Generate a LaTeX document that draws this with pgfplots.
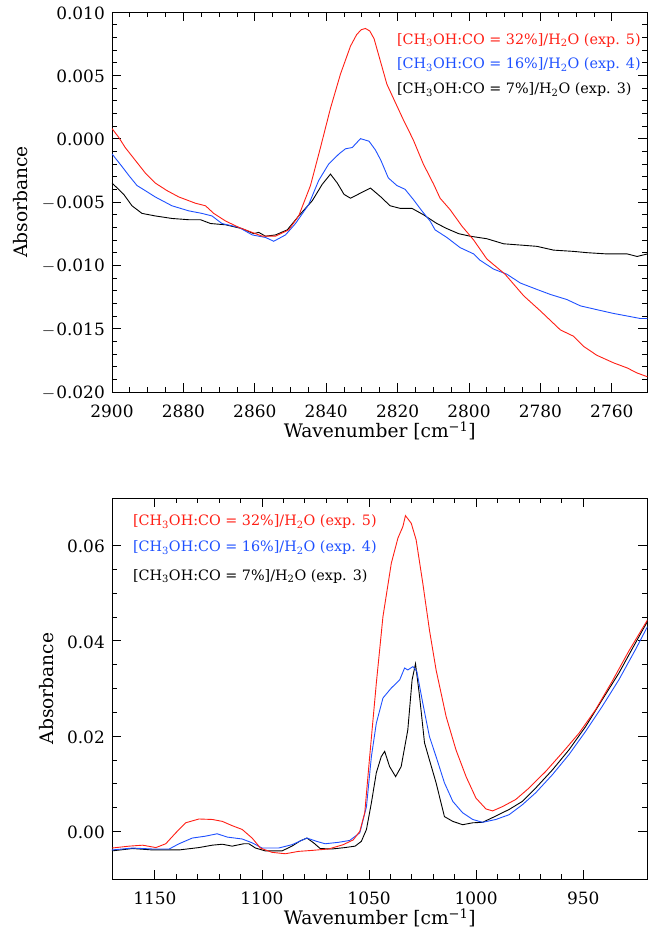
\documentclass[border=0pt]{standalone}
\usepackage{fontspec}
\setmainfont{DejaVu Serif}
\usepackage{pgfplots}
\pgfplotsset{compat=1.18}
\definecolor{cred}{RGB}{255,30,20}
\definecolor{cblue}{RGB}{30,80,255}
\pgfplotsset{
  ir/.style={
    scale only axis, width=535.5bp,
    x dir=reverse, axis line style={line width=0.9bp},
    tick align=inside, tick style={line width=0.8bp, black},
    major tick length=9bp, minor tick length=5bp,
    /pgf/number format/assume math mode=true,
    /pgf/number format/1000 sep={},
    scaled y ticks=false, scaled x ticks=false,
    tick label style={font=\fontsize{17}{20}\selectfont},
    label style={font=\fontsize{18.7}{22}\selectfont},
    yticklabel style={inner sep=0pt, xshift=-7bp, yshift=-1bp},
    xticklabel style={inner sep=0pt, yshift=-13bp},
    ylabel style={yshift=10bp},
    xlabel={Wavenumber [cm\textsuperscript{−1}]},
    ylabel={Absorbance},
    every axis plot/.append style={line width=0.9bp, no markers},
  }
}
\newcommand{\mn}{\kern0.5pt$-$\kern1pt}
\newcommand{\leg}[1]{\fontsize{14.4}{17}\selectfont [CH\textsubscript{3}OH:CO = #1]/H\textsubscript{2}O}
\begin{document}
\begin{tikzpicture}
\useasboundingbox (0,0) rectangle (648bp,935bp);
% ---------------- top panel ----------------
\begin{axis}[ir, height=380bp, at={(112bp,543bp)}, anchor=south west,
  xmin=2750, xmax=2900, ymin=-0.0200, ymax=0.0100,
  xtick={2900,2880,2860,2840,2820,2800,2780,2760}, minor x tick num=3,
  ytick={-0.020,-0.015,-0.010,-0.005,0,0.005,0.010},
  yticklabels={\mn0.020,\mn0.015,\mn0.010,\mn0.005,0.000,0.005,0.010},
  minor y tick num=4]
\addplot[black] coordinates {
(2900,-0.0035)(2896.7,-0.0044)(2894.4,-0.0053)(2891.6,-0.0059)(2887.9,-0.0061)(2883.2,-0.0063)(2878.5,-0.0064)(2875.2,-0.0064)(2872.4,-0.0067)(2868.2,-0.0068)(2863.6,-0.0071)(2860.3,-0.0075)(2858.9,-0.0074)(2857.0,-0.0077)(2854.2,-0.0076)(2850.9,-0.0072)(2847.7,-0.0061)(2843.9,-0.0049)(2841.1,-0.0036)(2838.8,-0.0028)(2836.9,-0.0035)(2835.0,-0.0044)(2833.2,-0.0047)(2830.4,-0.0043)(2827.6,-0.0039)(2824.7,-0.0046)(2822.1,-0.0053)(2819.3,-0.0055)(2816.0,-0.0055)(2812.8,-0.0060)(2809.0,-0.0067)(2806.2,-0.0071)(2802.9,-0.0075)(2799.7,-0.0077)(2795.0,-0.0079)(2790.3,-0.0083)(2785.6,-0.0084)(2781.0,-0.0085)(2776.3,-0.0088)(2770.7,-0.0089)(2767.0,-0.0090)(2761.4,-0.0091)(2755.7,-0.0091)(2752.9,-0.0093)(2750,-0.0091)};
\addplot[cblue] coordinates {
(2900,-0.0012)(2897.2,-0.0022)(2895.3,-0.0029)(2893.0,-0.0037)(2890.7,-0.0041)(2887.9,-0.0046)(2883.2,-0.0053)(2878.5,-0.0057)(2874.8,-0.0059)(2872.0,-0.0061)(2869.2,-0.0067)(2864.5,-0.0070)(2860.7,-0.0076)(2857.0,-0.0078)(2854.7,-0.0081)(2851.4,-0.0076)(2848.6,-0.0067)(2844.9,-0.0052)(2842.1,-0.0033)(2839.3,-0.0020)(2836.4,-0.0012)(2834.6,-0.0008)(2832.7,-0.0007)(2830.4,0.0000)(2828.0,-0.0002)(2826.2,-0.0009)(2824.7,-0.0017)(2822.6,-0.0031)(2820.2,-0.0037)(2817.9,-0.0040)(2815.6,-0.0048)(2813.2,-0.0057)(2810.9,-0.0065)(2809.5,-0.0072)(2806.2,-0.0078)(2802.5,-0.0086)(2798.7,-0.0091)(2796.9,-0.0096)(2793.1,-0.0103)(2789.4,-0.0107)(2785.6,-0.0114)(2781.0,-0.0119)(2777.2,-0.0123)(2772.6,-0.0127)(2768.8,-0.0132)(2764.2,-0.0135)(2759.5,-0.0138)(2755.7,-0.0140)(2752.0,-0.0142)(2750,-0.0142)};
\addplot[cred] coordinates {
(2900,0.0008)(2898.1,0.0001)(2896.3,-0.0007)(2893.5,-0.0017)(2890.7,-0.0027)(2887.9,-0.0035)(2884.6,-0.0041)(2881.3,-0.0046)(2876.6,-0.0051)(2873.8,-0.0053)(2871.5,-0.0059)(2868.2,-0.0065)(2864.5,-0.0070)(2861.7,-0.0073)(2857.9,-0.0077)(2854.2,-0.0077)(2850.5,-0.0072)(2847.7,-0.0061)(2844.4,-0.0037)(2841.6,-0.0007)(2838.8,0.0024)(2836.0,0.0051)(2833.2,0.0073)(2831.5,0.0082)(2830.2,0.0086)(2829.0,0.0087)(2827.8,0.0085)(2826.6,0.0079)(2825.5,0.0068)(2824.5,0.0058)(2823.0,0.0043)(2821.2,0.0032)(2818.4,0.0015)(2815.6,-0.0001)(2812.8,-0.0020)(2809.9,-0.0036)(2808.1,-0.0047)(2805.3,-0.0056)(2802.0,-0.0069)(2798.7,-0.0080)(2795.0,-0.0095)(2789.9,-0.0107)(2784.7,-0.0124)(2780.0,-0.0136)(2774.4,-0.0151)(2770.7,-0.0156)(2767.9,-0.0164)(2764.2,-0.0171)(2759.5,-0.0177)(2755.7,-0.0181)(2752.9,-0.0185)(2750,-0.0188)};
\node[anchor=west, text=cred, inner sep=0pt] at (rel axis cs:0.532,0.926) {\leg{32\%} (exp. 5)};
\node[anchor=west, text=cblue, inner sep=0pt] at (rel axis cs:0.532,0.861) {\leg{16\%} (exp. 4)};
\node[anchor=west, text=black, inner sep=0pt] at (rel axis cs:0.532,0.795) {\leg{7\%} (exp. 3)};
\end{axis}
% ---------------- bottom panel ----------------
\begin{axis}[ir, height=381bp, at={(112bp,56bp)}, anchor=south west,
  xmin=920, xmax=1170, ymin=-0.010, ymax=0.070,
  xtick={1150,1100,1050,1000,950}, minor x tick num=4,
  ytick={0,0.02,0.04,0.06},
  yticklabels={0.00,0.02,0.04,0.06},
  minor y tick num=3]
\addplot[black] coordinates {
(1170,-0.0041)(1160.4,-0.0036)(1151.1,-0.0039)(1138.7,-0.0039)(1129.4,-0.0034)(1123.2,-0.0029)(1118.5,-0.0027)(1113.9,-0.0031)(1108.5,-0.0026)(1106.1,-0.0026)(1103.0,-0.0035)(1098.4,-0.0041)(1090.6,-0.0041)(1086.0,-0.0031)(1082.1,-0.0020)(1079.0,-0.0014)(1075.9,-0.0024)(1072.8,-0.0036)(1067.4,-0.0037)(1061.2,-0.0034)(1056.5,-0.0031)(1053.6,-0.0021)(1051.2,0.0004)(1048.9,0.0060)(1046.6,0.0123)(1044.3,0.0157)(1042.7,0.0168)(1040.4,0.0136)(1037.6,0.0115)(1035.0,0.0136)(1031.9,0.0213)(1029.9,0.0318)(1028.3,0.0352)(1026.4,0.0283)(1024.1,0.0186)(1021.8,0.0150)(1018.7,0.0102)(1014.8,0.0031)(1010.9,0.0021)(1006.3,0.0014)(1001.6,0.0018)(997.0,0.0019)(992.3,0.0029)(984.6,0.0046)(978.4,0.0063)(972.2,0.0091)(964.4,0.0129)(956.7,0.0171)(948.9,0.0220)(941.2,0.0276)(933.4,0.0332)(925.7,0.0395)(920,0.0441)};
\addplot[cblue] coordinates {
(1170,-0.0039)(1160.4,-0.0035)(1151.1,-0.0037)(1143.3,-0.0037)(1138.7,-0.0026)(1132.5,-0.0014)(1126.3,-0.0010)(1120.9,-0.0005)(1116.2,-0.0012)(1109.2,-0.0016)(1104.6,-0.0024)(1099.9,-0.0035)(1092.2,-0.0035)(1086.0,-0.0028)(1079.0,-0.0014)(1074.4,-0.0021)(1070.5,-0.0026)(1064.3,-0.0023)(1059.0,-0.0019)(1054.3,-0.0003)(1051.2,0.0052)(1048.9,0.0157)(1046.6,0.0227)(1043.5,0.0280)(1039.6,0.0301)(1035.7,0.0318)(1033.4,0.0343)(1031.9,0.0339)(1029.5,0.0346)(1027.7,0.0336)(1024.9,0.0269)(1021.8,0.0199)(1018.7,0.0157)(1014.8,0.0102)(1010.9,0.0063)(1006.3,0.0039)(1001.6,0.0025)(997.0,0.0019)(990.8,0.0025)(984.6,0.0035)(978.4,0.0056)(972.2,0.0081)(964.4,0.0119)(956.7,0.0161)(948.9,0.0210)(941.2,0.0262)(933.4,0.0318)(925.7,0.0381)(920,0.0430)};
\addplot[cred] coordinates {
(1170,-0.0035)(1162.0,-0.0031)(1155.7,-0.0029)(1149.5,-0.0034)(1144.9,-0.0026)(1140.2,-0.0003)(1135.6,0.0018)(1129.4,0.0026)(1123.2,0.0025)(1118.5,0.0021)(1113.9,0.0012)(1109.2,0.0004)(1104.6,-0.0014)(1100.7,-0.0035)(1095.3,-0.0044)(1089.1,-0.0047)(1082.9,-0.0042)(1076.7,-0.0040)(1068.9,-0.0037)(1062.1,-0.0028)(1057.4,-0.0018)(1054.3,0.0000)(1052.0,0.0039)(1049.7,0.0157)(1046.6,0.0311)(1043.5,0.0451)(1039.6,0.0563)(1036.5,0.0616)(1034.2,0.0640)(1033.0,0.0663)(1030.3,0.0647)(1028.0,0.0612)(1024.9,0.0521)(1021.8,0.0423)(1018.7,0.0339)(1014.0,0.0241)(1009.4,0.0171)(1004.7,0.0115)(1000.1,0.0070)(995.4,0.0047)(992.3,0.0043)(987.7,0.0052)(981.5,0.0067)(975.3,0.0091)(967.5,0.0126)(959.8,0.0165)(952.0,0.0206)(944.3,0.0255)(936.5,0.0315)(928.8,0.0378)(920,0.0444)};
\node[anchor=west, text=cred, inner sep=0pt] at (rel axis cs:0.039,0.937) {\leg{32\%} (exp. 5)};
\node[anchor=west, text=cblue, inner sep=0pt] at (rel axis cs:0.039,0.869) {\leg{16\%} (exp. 4)};
\node[anchor=west, text=black, inner sep=0pt] at (rel axis cs:0.039,0.795) {\leg{7\%} (exp. 3)};
\end{axis}
\end{tikzpicture}
\end{document}
